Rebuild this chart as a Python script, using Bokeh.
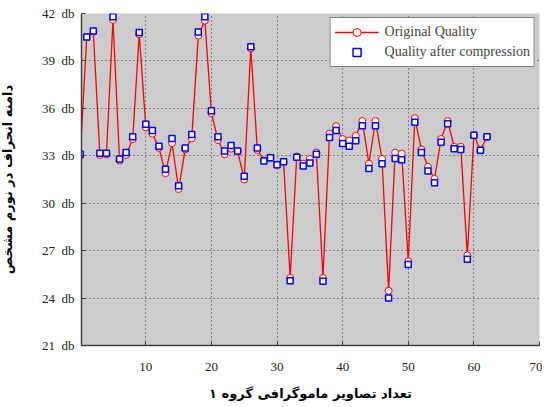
from bokeh.plotting import figure
from bokeh.models import Range1d, FixedTicker, Legend, LegendItem, ColumnDataSource
from bokeh.embed import file_html
from bokeh.resources import INLINE

# ---- data ----
image_index = list(range(63))
original_quality = [
    33.0, 40.5, 40.85, 33.05, 33.1, 41.6, 32.7, 33.05, 34.05, 40.7,
    34.8, 34.4, 33.5, 31.9, 33.8, 30.9, 33.4, 34.1, 40.6, 41.55,
    35.7, 34.0, 33.1, 33.45, 33.3, 31.5, 39.8, 33.37, 32.7, 32.88,
    32.43, 32.63, 25.27, 32.95, 32.5, 32.8, 33.2, 25.27, 34.4, 34.87,
    34.06, 33.97, 34.26, 35.2, 32.5, 35.2, 32.8, 24.46, 33.2, 33.14,
    26.33, 35.38, 33.4, 32.3, 31.54, 34.06, 35.2, 33.57, 33.57, 26.7,
    34.3, 33.35, 34.2,
]
compressed_quality = [
    33.1, 40.52, 40.9, 33.16, 33.16, 41.8, 32.8, 33.2, 34.2, 40.8,
    35.0, 34.6, 33.6, 32.15, 34.1, 31.1, 33.5, 34.34, 40.83, 41.8,
    35.85, 34.2, 33.3, 33.65, 33.3, 31.7, 39.9, 33.5, 32.67, 32.88,
    32.43, 32.63, 25.1, 32.9, 32.35, 32.55, 33.1, 25.07, 34.15, 34.6,
    33.77, 33.6, 33.95, 34.9, 32.2, 34.9, 32.5, 24.0, 32.83, 32.75,
    26.13, 35.12, 33.2, 32.04, 31.3, 33.85, 35.03, 33.45, 33.4, 26.45,
    34.3, 33.35, 34.2,
]
x_ticks = [10, 20, 30, 40, 50, 60, 70]
y_ticks = [21, 24, 27, 30, 33, 36, 39, 42]
y_tick_labels = {t: f"{t}\u00a0\u00a0db" for t in y_ticks}
series_names = ["Original Quality", "Quality after compression"]
x_title = "تعداد تصاویر ماموگرافی گروه ۱"
y_title = "دامنه انحراف در نورم مشخص"

src = ColumnDataSource(dict(x=image_index, orig=original_quality, comp=compressed_quality))

p = figure(width=546, height=407, x_range=Range1d(0.2, 70), y_range=Range1d(21, 42),
           output_backend="svg", toolbar_location=None,
           min_border_left=85, min_border_right=3, min_border_top=17, min_border_bottom=55,
           background_fill_color="#cccccc", border_fill_color="white",
           margin=(-4, -4, -4, -4))
p.outline_line_color = None

# grid
for g, t in ((p.xgrid, x_ticks), (p.ygrid, y_ticks)):
    g.ticker = FixedTicker(ticks=t)
    g.grid_line_color = "black"
    g.grid_line_dash = "1 3"
    g.grid_line_alpha = 0.75

# axes
p.xaxis.ticker = FixedTicker(ticks=x_ticks)
p.yaxis.ticker = FixedTicker(ticks=y_ticks)
p.yaxis.major_label_overrides = y_tick_labels
for ax in (p.xaxis, p.yaxis):
    ax.major_tick_in = 4
    ax.major_tick_out = 0
    ax.minor_tick_line_color = None
    ax.axis_line_color = "#404040"
    ax.axis_line_width = 1.5
    ax.major_tick_line_color = "#404040"
    ax.major_label_text_font = "Liberation Serif"
    ax.major_label_text_font_size = "13px"
    ax.major_label_text_color = "#222222"
    ax.axis_label_text_font = "DejaVu Sans"
    ax.axis_label_text_font_style = "bold"
    ax.axis_label_text_font_size = "13px"
    ax.axis_label_text_color = "black"
p.xaxis.major_label_standoff = 17
p.xaxis.axis_label_standoff = 12
p.yaxis.major_label_standoff = 7
p.yaxis.axis_label_standoff = 24
p.xaxis.axis_label = x_title
p.yaxis.axis_label = y_title

# series
r_line = p.line("x", "orig", source=src, line_color="#ff0000", line_width=1.3)
r_circ = p.scatter("x", "orig", source=src, marker="circle", size=7,
                   line_color="#ff0000", fill_color="white", line_width=1)
r_sq = p.scatter("x", "comp", source=src, marker="square", size=6,
                 line_color="#0000ff", fill_color="white", line_width=1.5)

legend = Legend(items=[LegendItem(label=series_names[0], renderers=[r_line, r_circ]),
                       LegendItem(label=series_names[1], renderers=[r_sq])],
                location="top_right")
legend.margin = 4
legend.padding = 4
legend.spacing = 0
legend.glyph_width = 44
legend.glyph_height = 20
legend.label_height = 20
legend.label_standoff = 6
legend.label_text_font = "Liberation Serif"
legend.label_text_font_size = "14px"
legend.border_line_color = "black"
legend.border_line_width = 1.5
legend.background_fill_color = "white"
legend.background_fill_alpha = 1.0
p.add_layout(legend)

open("out.html", "w").write(file_html(p, INLINE))
